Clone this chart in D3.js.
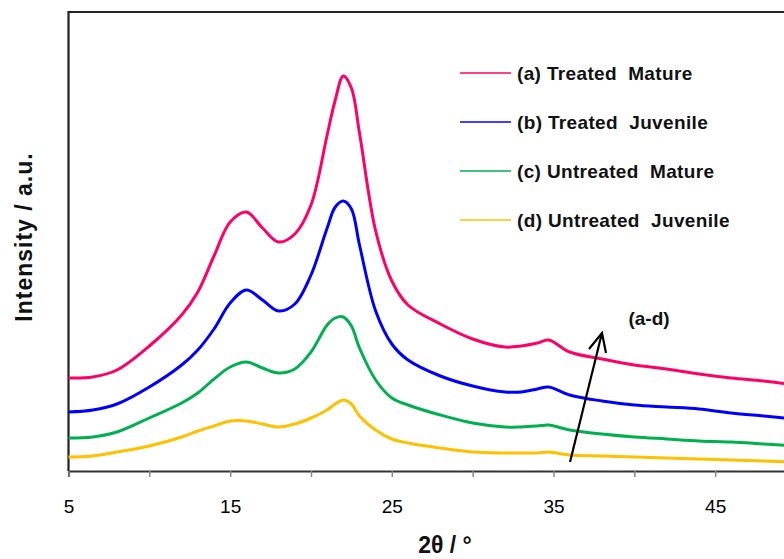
<!DOCTYPE html>
<html>
<head>
<meta charset="utf-8">
<script src="https://cdn.jsdelivr.net/npm/d3@7"></script>
<style>
  body { margin: 0; background: #fff; }
  text { font-family: "Liberation Sans", Arial, sans-serif; }
</style>
</head>
<body>
<div id="chart-area"></div>
<script>
// XRD patterns, values (a.u.)
var twoTheta = [5, 6.5, 8, 10, 12, 13, 14, 15, 16, 17, 18, 19, 20, 21, 21.5, 22, 22.5, 23, 24, 25,
                26, 28, 30, 32, 33, 34, 34.7, 36, 38, 40, 42, 44, 46, 48, 50];

var treatedMature = [93, 94, 101, 125, 156, 179, 215, 249, 259, 243, 229, 237, 266, 336, 371, 395, 383, 338, 240, 190,
                     166, 147, 132, 124, 125, 128, 131, 119, 112, 106, 102, 97, 93, 90, 86];
var treatedJuvenile = [59, 61, 67, 84, 106, 121, 142, 168, 181, 171, 160, 167, 196, 243, 264, 270, 262, 226, 160, 127,
                       111, 95, 85, 79, 79, 82, 84, 76, 70, 66, 64, 62, 58, 55, 52];
var untreatedMature = [33, 34, 39, 53, 68, 78, 92, 104, 109, 103, 98, 102, 119, 146, 153, 154, 145, 123, 91, 73,
                       66, 56, 48, 44, 44, 45, 46, 41, 37, 34, 32, 30, 29, 27, 25];
var untreatedJuvenile = [14, 15, 19, 25, 34, 40, 45, 50, 50, 47, 44, 47, 53, 61, 67, 71, 67, 55, 41, 32,
                         28, 23, 19, 18, 18, 18, 19, 16, 15, 14, 13, 12, 11, 10, 9];

var seriesNames = ["(a) Treated  Mature", "(b) Treated  Juvenile", "(c) Untreated  Mature", "(d) Untreated  Juvenile"];
var seriesColors = ["#ff0066", "#0000ff", "#00b050", "#ffc000"];
var xTickValues = [5, 10, 15, 20, 25, 30, 35, 40, 45, 50];
var xTickLabels = [5, 15, 25, 35, 45];

var width = 784, height = 559;

var svg = d3.select("#chart-area")
    .append("svg")
        .attr("width", width)
        .attr("height", height);

var x = d3.scaleLinear().domain([5, 50]).range([68.5, 796]);
var y = d3.scaleLinear().domain([0, 459]).range([471, 12]);

var seriesData = [treatedMature, treatedJuvenile, untreatedMature, untreatedJuvenile];

// frame (right side runs off the picture)
svg.append("path")
    .attr("d", "M" + x(5) + "," + (y(0)) + "V" + y(459) + "H" + (width + 5))
    .attr("fill", "none")
    .attr("stroke", "#222")
    .attr("stroke-width", 2.2);

// x axis
var xAxis = d3.axisBottom(x)
    .tickValues(xTickValues)
    .tickSize(6)
    .tickFormat(function(d){ return xTickLabels.indexOf(d) >= 0 ? d : ""; });

var gx = svg.append("g")
    .attr("transform", "translate(0," + y(0) + ")")
    .call(xAxis);
gx.select(".domain").attr("stroke", "#333").attr("stroke-width", 2.2);
gx.selectAll(".tick line").attr("stroke", "#888").attr("stroke-width", 1.5);
gx.selectAll(".tick text")
    .attr("y", 29)
    .attr("font-size", 19)
    .attr("fill", "#000")
    .style("font-family", "'Liberation Sans', Arial, sans-serif");

// curves
var line = d3.line()
    .x(function(d, i){ return x(twoTheta[i]); })
    .y(function(d){ return y(d); })
    .curve(d3.curveCatmullRom.alpha(0.5));

svg.append("g")
    .selectAll("path")
    .data(seriesData)
    .enter()
    .append("path")
        .attr("d", line)
        .attr("fill", "none")
        .attr("stroke", function(d, i){ return seriesColors[i]; })
        .attr("stroke-width", 3)
        .attr("stroke-linejoin", "round");

// legend
var legend = svg.append("g")
    .selectAll("g")
    .data(seriesNames)
    .enter()
    .append("g")
        .attr("transform", function(d, i){ return "translate(460," + (73 + i * 49) + ")"; });

legend.append("line")
    .attr("x1", 0).attr("x2", 51)
    .attr("stroke", function(d, i){ return seriesColors[i]; })
    .attr("stroke-width", 1.6);

legend.append("text")
    .attr("x", 57)
    .attr("y", 7)
    .attr("font-size", 19)
    .attr("font-weight", "bold")
    .attr("letter-spacing", 0.35)
    .attr("fill", "#111")
    .style("white-space", "pre")
    .text(function(d){ return d; });

// arrow (a-d)
svg.append("line")
    .attr("x1", 570).attr("y1", 462)
    .attr("x2", 602).attr("y2", 333)
    .attr("stroke", "#000")
    .attr("stroke-width", 2.2);
svg.append("path")
    .attr("d", "M589,349L602,333L606,353")
    .attr("fill", "none")
    .attr("stroke", "#000")
    .attr("stroke-width", 2.2);
svg.append("text")
    .attr("x", 649)
    .attr("y", 325)
    .attr("text-anchor", "middle")
    .attr("font-size", 19)
    .attr("font-weight", "bold")
    .attr("fill", "#111")
    .text("(a-d)");

// axis titles
svg.append("text")
    .attr("x", 445)
    .attr("y", 553)
    .attr("text-anchor", "middle")
    .attr("font-size", 23)
    .attr("font-weight", "bold")
    .attr("fill", "#111")
    .text("2θ / °");

svg.append("text")
    .attr("transform", "translate(32,237) rotate(-90)")
    .attr("text-anchor", "middle")
    .attr("font-size", 23)
    .attr("font-weight", "bold")
    .attr("letter-spacing", 1)
    .attr("fill", "#111")
    .text("Intensity / a.u.");
</script>
</body>
</html>
